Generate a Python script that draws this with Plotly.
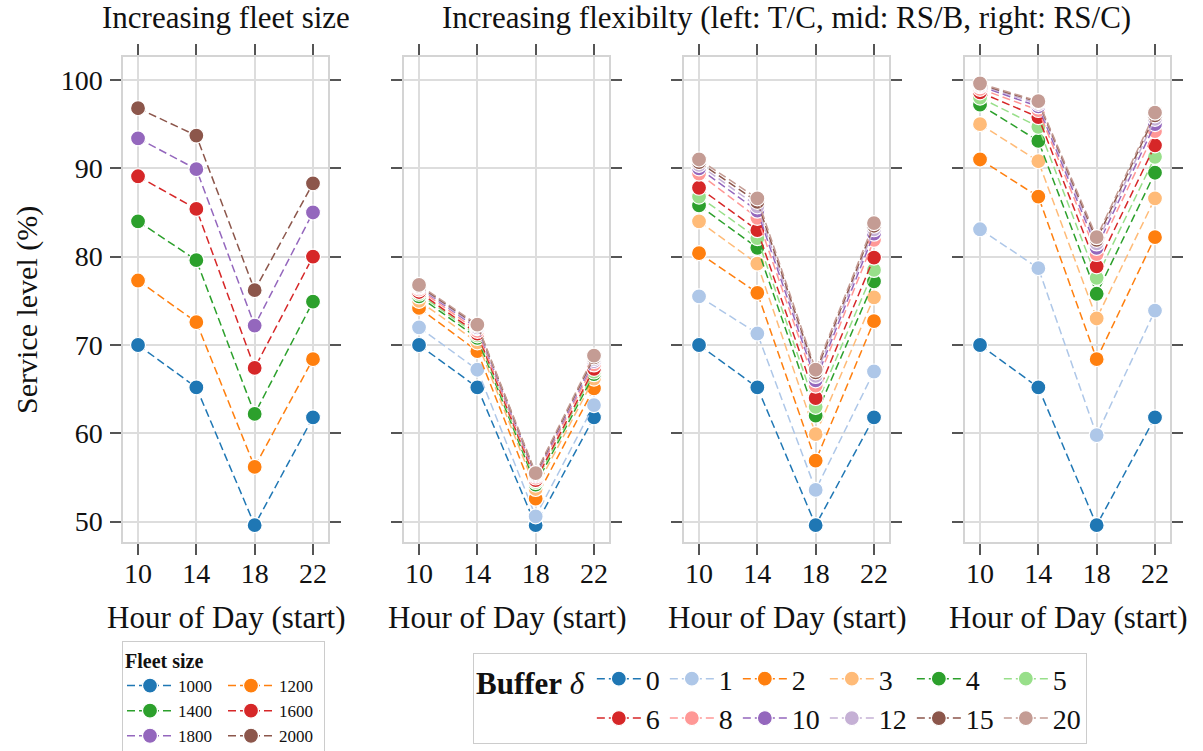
import plotly.graph_objects as go

# ---- data -------------------------------------------------------------
hours = [10, 14, 18, 22]
y_ticks = [50, 60, 70, 80, 90, 100]

fleet_sizes = [1000, 1200, 1400, 1600, 1800, 2000]
fleet_service = [
    [70.0, 65.2, 49.6, 61.8],
    [77.3, 72.6, 56.2, 68.4],
    [84.0, 79.6, 62.2, 74.9],
    [89.1, 85.4, 67.4, 80.0],
    [93.4, 89.9, 72.2, 85.0],
    [96.8, 93.7, 76.2, 88.3],
]

buffers = [0, 1, 2, 3, 4, 5, 6, 8, 10, 12, 15, 20]

# T/C
tc_service = [
    [70.0, 65.2, 49.6, 61.8],
    [72.0, 67.2, 50.6, 63.2],
    [74.2, 69.3, 52.6, 65.1],
    [75.0, 70.3, 53.7, 66.2],
    [75.5, 70.8, 54.2, 66.7],
    [75.8, 71.1, 54.5, 67.0],
    [76.0, 71.3, 54.7, 67.3],
    [76.3, 71.6, 55.0, 67.8],
    [76.5, 71.9, 55.2, 68.2],
    [76.6, 72.0, 55.3, 68.4],
    [76.7, 72.2, 55.4, 68.6],
    [76.8, 72.3, 55.5, 68.8],
]

# RS/B
rsb_service = [
    [70.0, 65.2, 49.6, 61.8],
    [75.5, 71.3, 53.6, 67.0],
    [80.4, 75.9, 56.9, 72.7],
    [84.0, 79.2, 59.9, 75.4],
    [85.8, 81.0, 62.0, 77.2],
    [86.8, 82.1, 63.0, 78.5],
    [87.8, 83.0, 64.0, 79.9],
    [89.4, 84.4, 65.4, 81.9],
    [90.0, 85.2, 66.0, 82.6],
    [90.4, 85.7, 66.5, 83.1],
    [90.7, 86.2, 66.9, 83.5],
    [91.0, 86.6, 67.2, 83.8],
]

# RS/C
rsc_service = [
    [70.0, 65.2, 49.6, 61.8],
    [83.1, 78.7, 59.8, 73.9],
    [91.0, 86.8, 68.4, 82.2],
    [95.0, 90.8, 73.0, 86.6],
    [97.2, 93.1, 75.8, 89.5],
    [98.0, 94.7, 77.6, 91.3],
    [98.6, 95.8, 78.9, 92.6],
    [99.0, 96.6, 80.3, 94.2],
    [99.3, 97.0, 81.0, 95.0],
    [99.4, 97.3, 81.5, 95.6],
    [99.5, 97.5, 81.9, 96.0],
    [99.6, 97.6, 82.2, 96.3],
]

# ---- styling ----------------------------------------------------------
fleet_colors = ["#1f77b4", "#ff7f0e", "#2ca02c", "#d62728", "#9467bd", "#8c564b"]
buffer_colors = ["#1f77b4", "#aec7e8", "#ff7f0e", "#ffbb78", "#2ca02c", "#98df8a",
                 "#d62728", "#ff9896", "#9467bd", "#c5b0d5", "#8c564b", "#c49c94"]

FONT = "Liberation Serif"
TEXT = "#111111"
W, H = 1203, 751
ML, MR, MT, MB = 123, 33, 57, 209
PW = W - ML - MR
PH = H - MT - MB


def fx(px):
    return (px - ML) / PW


def fy(py):
    return (H - MB - py) / PH


panel_left = [123, 404, 684, 965]
panel_w = 205
X_RANGE = [8.97, 23.03]
Y_RANGE = [47.7, 102.6]
DASH = "8px,4px"

fig = go.Figure()


def add_series(xa, ya, y, color, name, legend, group, show):
    fig.add_trace(go.Scatter(
        x=hours, y=y, mode="lines+markers", name=name,
        line=dict(color=color, width=1.5, dash=DASH),
        marker=dict(color=color, size=15, line=dict(color="white", width=1.2)),
        xaxis=xa, yaxis=ya, legend=legend, legendgroup=group,
        showlegend=show, hoverinfo="x+y+name",
    ))


# left panel: one line per fleet size
for i, size in enumerate(fleet_sizes):
    add_series("x", "y", fleet_service[i], fleet_colors[i], str(size),
               "legend", "fleet%d" % (i % 2), True)

# right panels: one line per buffer value
for p, panel in enumerate([tc_service, rsb_service, rsc_service]):
    for j, b in enumerate(buffers):
        add_series("x%d" % (p + 2), "y%d" % (p + 2), panel[j], buffer_colors[j], str(b),
                   "legend2", "buf%d" % (j % 6), p == 0)

axis_style = dict(
    showline=True, linecolor="#d4d4d4", linewidth=1.5, mirror="ticks",
    showgrid=True, gridcolor="#dddddd", gridwidth=1.5, zeroline=False,
    ticks="outside", ticklen=11, tickwidth=1.5, tickcolor="#555555",
    tickfont=dict(family=FONT, size=28, color=TEXT),
)

layout = dict(
    width=W, height=H,
    margin=dict(l=ML, r=MR, t=MT, b=MB, autoexpand=False),
    paper_bgcolor="white", plot_bgcolor="white",
    font=dict(family=FONT, color=TEXT),
    showlegend=True,
)

for k in range(4):
    sfx = "" if k == 0 else str(k + 1)
    d0 = fx(panel_left[k])
    d1 = fx(panel_left[k] + panel_w)
    layout["xaxis" + sfx] = dict(axis_style, domain=[d0, min(d1, 1.0)], range=X_RANGE,
                                 tickvals=hours, ticklabelstandoff=-5,
                                 anchor="y" + sfx)
    layout["yaxis" + sfx] = dict(axis_style, domain=[0, 1], range=Y_RANGE,
                                 tickvals=y_ticks, showticklabels=(k == 0),
                                 ticklabelstandoff=2, anchor="x" + sfx)

layout["legend"] = dict(
    orientation="h", x=fx(122), y=fy(641), xanchor="left", yanchor="top",
    title=dict(text="<b>Fleet size</b>", side="top", font=dict(family=FONT, size=20, color=TEXT)),
    font=dict(family=FONT, size=17, color=TEXT),
    bordercolor="#cccccc", borderwidth=1, bgcolor="white",
    traceorder="grouped", itemwidth=46, entrywidth=40,
)
layout["legend2"] = dict(
    orientation="h", x=fx(473), y=fy(653), xanchor="left", yanchor="top",
    title=dict(text="<b>Buffer</b> <i>δ</i>", side="left", font=dict(family=FONT, size=31, color=TEXT)),
    font=dict(family=FONT, size=28, color=TEXT),
    bordercolor="#cccccc", borderwidth=1, bgcolor="white",
    traceorder="grouped", itemwidth=44,
)

annotations = [
    dict(text="Increasing fleet size", x=fx(226), y=fy(17)),
    dict(text="Increasing flexibilty (left: T/C, mid: RS/B, right: RS/C)", x=fx(786), y=fy(17)),
]
for k in range(4):
    annotations.append(dict(text="Hour of Day (start)", x=fx(panel_left[k] + panel_w / 2), y=fy(617)))
annotations = [dict(a, xref="paper", yref="paper", showarrow=False, xanchor="center",
                    yanchor="middle", font=dict(family=FONT, size=31, color=TEXT))
               for a in annotations]
annotations.append(dict(text="Service level (%)", x=fx(27), y=fy(310), xref="paper", yref="paper",
                        showarrow=False, textangle=-90, xanchor="center", yanchor="middle",
                        font=dict(family=FONT, size=30, color=TEXT)))
layout["annotations"] = annotations

fig.update_layout(**layout)
fig.write_html("out.html")
